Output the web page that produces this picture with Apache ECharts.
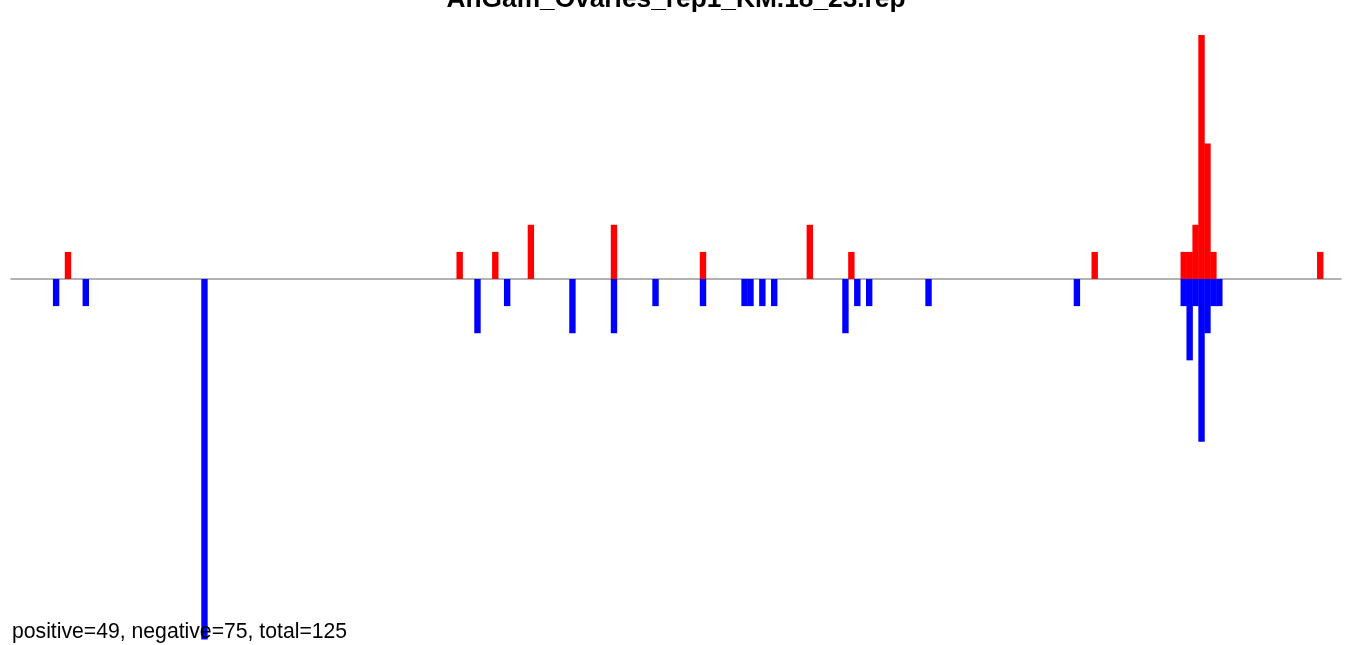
<!DOCTYPE html>
<html>
<head>
<meta charset="utf-8">
<script src="https://cdn.jsdelivr.net/npm/echarts@6/dist/echarts.min.js"></script>
<style>
html,body{margin:0;padding:0;background:#fff;}
#chart{width:1352px;height:645px;}
</style>
</head>
<body>
<div id="chart"></div>
<script>
// Positions along the sequence (index units) and read counts
var titleText = "AnGam_Ovaries_rep1_KM.18_23.rep";
var summaryText = "positive=49, negative=75, total=125";

var posX = [2, 68, 74, 80, 94, 109, 127, 134, 175, 190, 191, 192, 193, 194, 195, 213];
var posY = [1, 1, 1, 2, 2, 1, 2, 1, 1, 1, 1, 2, 9, 5, 1, 1];

var negX = [0, 5, 25, 71, 76, 87, 94, 101, 109, 116, 117, 119, 121, 133, 135, 137, 147, 172, 190, 191, 192, 193, 194, 195, 196];
var negY = [1, 1, 13.3, 2, 1, 2, 2, 1, 1, 1, 1, 1, 1, 2, 1, 1, 1, 1, 1, 3, 1, 6, 2, 1, 1];

var xMin = -7.6, xMax = 216.5;
var yMin = -13.3, yMax = 9;

var posData = posX.map(function (x, i) { return [x, posY[i]]; });
var negData = negX.map(function (x, i) { return [x, -negY[i]]; });

var chart = echarts.init(document.getElementById('chart'), null, {renderer: 'canvas'});
chart.setOption({
  animation: false,
  backgroundColor: '#ffffff',
  title: [{
    text: titleText,
    left: 'center',
    top: -13,
    padding: 0,
    textStyle: {fontFamily: 'Liberation Sans', fontWeight: 'bold', fontSize: 26.3, color: '#000'}
  }, {
    text: summaryText,
    left: 12,
    top: 622,
    padding: 0,
    textStyle: {fontFamily: 'Liberation Sans', fontWeight: 'normal', fontSize: 21.2, color: '#000'}
  }],
  grid: {left: 11, right: 11, top: 35, height: 604.6, containLabel: false},
  xAxis: {
    type: 'value', min: xMin, max: xMax,
    axisLine: {show: true, onZero: true, lineStyle: {color: '#999999', width: 1.5}},
    axisTick: {show: false}, axisLabel: {show: false}, splitLine: {show: false}
  },
  yAxis: {
    type: 'value', min: yMin, max: yMax,
    axisLine: {show: false}, axisTick: {show: false}, axisLabel: {show: false}, splitLine: {show: false}
  },
  series: [{
    type: 'bar', name: 'positive', data: posData, barWidth: 6.4, barGap: '-100%',
    itemStyle: {color: '#ff0000'}
  }, {
    type: 'bar', name: 'negative', data: negData, barWidth: 6.4, barGap: '-100%',
    itemStyle: {color: '#0000ff'}
  }]
});
</script>
</body>
</html>
